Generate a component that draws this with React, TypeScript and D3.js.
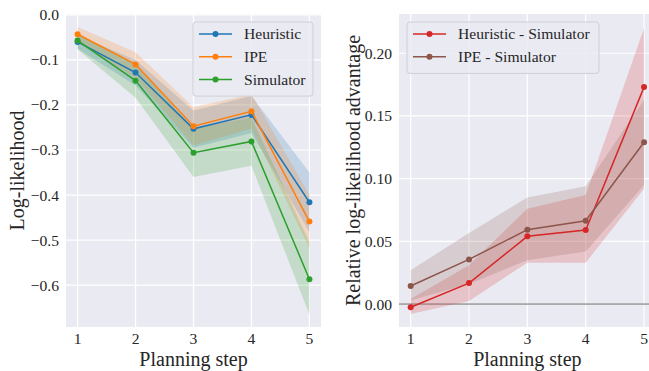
import { scaleLinear, line, area } from 'd3';

const steps = [1, 2, 3, 4, 5];

// left panel: log-likelihood per model
const heuristicMean = [-0.06, -0.128, -0.253, -0.222, -0.416];
const heuristicLo = [-0.075, -0.157, -0.295, -0.262, -0.482];
const heuristicHi = [-0.045, -0.1, -0.212, -0.18, -0.35];
const ipeMean = [-0.043, -0.11, -0.247, -0.214, -0.459];
const ipeLo = [-0.06, -0.14, -0.29, -0.252, -0.518];
const ipeHi = [-0.027, -0.083, -0.205, -0.176, -0.4];
const simMean = [-0.057, -0.146, -0.306, -0.281, -0.587];
const simLo = [-0.076, -0.184, -0.36, -0.335, -0.665];
const simHi = [-0.04, -0.11, -0.252, -0.228, -0.505];

// right panel: advantage over simulator
const heurDiff = [-0.0026, 0.0167, 0.054, 0.059, 0.173];
const heurDiffLo = [-0.008, 0.0025, 0.033, 0.033, 0.092];
const heurDiffHi = [0.004, 0.031, 0.076, 0.087, 0.22];
const ipeDiff = [0.0144, 0.0356, 0.0593, 0.0664, 0.129];
const ipeDiffLo = [0.003, 0.016, 0.035, 0.042, 0.095];
const ipeDiffHi = [0.027, 0.0566, 0.085, 0.094, 0.163];

const leftTicks = [0, -0.1, -0.2, -0.3, -0.4, -0.5, -0.6];
const rightTicks = [0, 0.05, 0.1, 0.15, 0.2];

const FONT = '"Liberation Serif", "DejaVu Serif", serif';
const BG = '#EAEAF2';

interface Series {
  name: string;
  color: string;
  mean: number[];
  lo: number[];
  hi: number[];
}

const leftSeries: Series[] = [
  { name: 'Heuristic', color: '#1f77b4', mean: heuristicMean, lo: heuristicLo, hi: heuristicHi },
  { name: 'IPE', color: '#ff7f0e', mean: ipeMean, lo: ipeLo, hi: ipeHi },
  { name: 'Simulator', color: '#2ca02c', mean: simMean, lo: simLo, hi: simHi },
];

const rightSeries: Series[] = [
  { name: 'Heuristic - Simulator', color: '#d62728', mean: heurDiff, lo: heurDiffLo, hi: heurDiffHi },
  { name: 'IPE - Simulator', color: '#8c564b', mean: ipeDiff, lo: ipeDiffLo, hi: ipeDiffHi },
];

const fmt = (v: number, digits: number) => {
  const s = Math.abs(v).toFixed(digits);
  return v < -1e-9 ? '\u2212' + s : s;
};

interface PanelProps {
  series: Series[];
  x0: number;
  x1: number;
  yDomain: [number, number];
  ticks: number[];
  digits: number;
  yLabel: string;
  yLabelX: number;
  legend: { x: number; y: number; w: number };
  zeroLine?: boolean;
  clipId: string;
}

function Panel({ series, x0, x1, yDomain, ticks, digits, yLabel, yLabelX, legend, zeroLine, clipId }: PanelProps) {
  const top = 14;
  const bottom = 327;
  const x = scaleLinear().domain([0.8, 5.2]).range([x0, x1]);
  const y = scaleLinear().domain(yDomain).range([bottom, top]);

  const mk = (vals: number[]) =>
    line<number>()
      .x((_, i) => x(steps[i]))
      .y((d) => y(d))(vals) || '';
  const band = (lo: number[], hi: number[]) =>
    area<number>()
      .x((_, i) => x(steps[i]))
      .y0((_, i) => y(lo[i]))
      .y1((_, i) => y(hi[i]))(steps) || '';

  const rowH = 22.7;
  const legH = series.length * rowH + 2;

  return (
    <g>
      <defs>
        <clipPath id={clipId}>
          <rect x={x0} y={top} width={x1 - x0} height={bottom - top} />
        </clipPath>
      </defs>
      <rect x={x0} y={top} width={x1 - x0} height={bottom - top} fill={BG} />
      {ticks.map((t) => (
        <line key={'h' + t} x1={x0} x2={x1} y1={y(t)} y2={y(t)} stroke="#fff" strokeWidth={1.2} />
      ))}
      {steps.map((s) => (
        <line key={'v' + s} x1={x(s)} x2={x(s)} y1={top} y2={bottom} stroke="#fff" strokeWidth={1.2} />
      ))}
      <g clipPath={`url(#${clipId})`}>
        {zeroLine && <line x1={x0} x2={x1} y1={y(0)} y2={y(0)} stroke="#666" strokeWidth={1} />}
        {series.map((s) => (
          <path key={'b' + s.name} d={band(s.lo, s.hi)} fill={s.color} fillOpacity={0.2} />
        ))}
        {series.map((s) => (
          <g key={'l' + s.name}>
            <path d={mk(s.mean)} fill="none" stroke={s.color} strokeWidth={1.5} />
            {s.mean.map((v, i) => (
              <circle key={i} cx={x(steps[i])} cy={y(v)} r={3} fill={s.color} />
            ))}
          </g>
        ))}
      </g>
      {ticks.map((t) => (
        <text
          key={'t' + t}
          x={x0 - 7}
          y={y(t)}
          dy="0.35em"
          textAnchor="end"
          fontSize={15.6}
          fontFamily={FONT}
          fill="#262626"
        >
          {fmt(t, digits)}
        </text>
      ))}
      {steps.map((s) => (
        <text key={'xt' + s} x={x(s)} y={344} textAnchor="middle" fontSize={15.6} fontFamily={FONT} fill="#262626">
          {s}
        </text>
      ))}
      <text x={(x0 + x1) / 2} y={365.5} textAnchor="middle" fontSize={20} fontFamily={FONT} fill="#262626">
        Planning step
      </text>
      <text
        transform={`translate(${yLabelX},${(top + bottom) / 2}) rotate(-90)`}
        textAnchor="middle"
        dy="0.35em"
        fontSize={20}
        fontFamily={FONT}
        fill="#262626"
      >
        {yLabel}
      </text>
      <rect
        x={legend.x}
        y={legend.y}
        width={legend.w}
        height={legH + 4}
        rx={3}
        fill={BG}
        fillOpacity={0.8}
        stroke="#cfcfd6"
        strokeWidth={1}
      />
      {series.map((s, i) => {
        const cy = legend.y + 12 + i * rowH;
        return (
          <g key={'lg' + s.name}>
            <line x1={legend.x + 6} x2={legend.x + 39} y1={cy} y2={cy} stroke={s.color} strokeWidth={1.5} />
            <circle cx={legend.x + 22.5} cy={cy} r={3} fill={s.color} />
            <text x={legend.x + 51} y={cy} dy="0.35em" fontSize={15.6} fontFamily={FONT} fill="#262626">
              {s.name}
            </text>
          </g>
        );
      })}
    </g>
  );
}

export default function App() {
  return (
    <div style={{ position: 'fixed', left: 0, top: 0 }}>
      <svg width={649} height={371} style={{ display: 'block', background: '#fff' }}>
        <Panel
          series={leftSeries}
          x0={66}
          x1={321}
          yDomain={[-0.693, 0.002]}
          ticks={leftTicks}
          digits={1}
          yLabel="Log-likelihood"
          yLabelX={17}
          legend={{ x: 193, y: 22, w: 120 }}
          clipId="clipL"
        />
        <Panel
          series={rightSeries}
          x0={399}
          x1={655.7}
          yDomain={[-0.0183, 0.2313]}
          ticks={rightTicks}
          digits={2}
          yLabel="Relative log-likelihood advantage"
          yLabelX={353}
          legend={{ x: 407, y: 22, w: 192 }}
          zeroLine
          clipId="clipR"
        />
      </svg>
    </div>
  );
}
